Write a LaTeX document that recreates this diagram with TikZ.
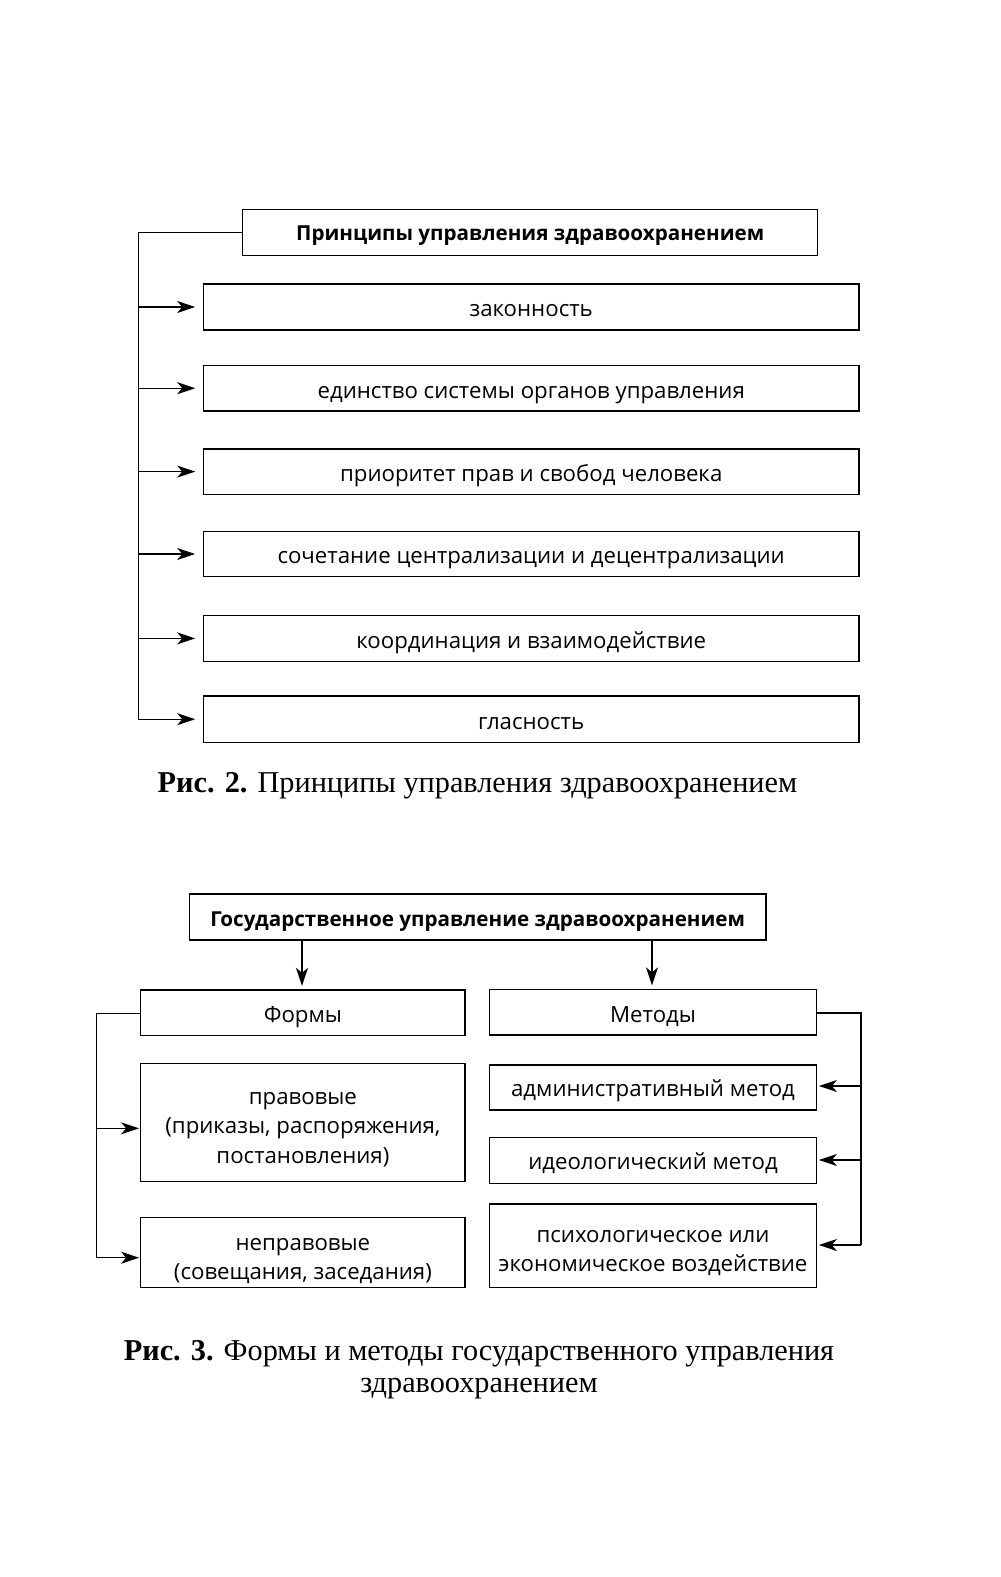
\documentclass[tikz,border=0pt]{standalone}
\usepackage{fontspec}
\setmainfont{Open Sans}
\newfontfamily\capfont{Liberation Serif}
\usetikzlibrary{arrows.meta}
\newcommand\mltext[2][4bp]{\raisebox{-#1}[\height][\depth]{\begin{tabular}{@{}c@{}}#2\end{tabular}}}
\tikzset{
  box/.style={draw, line width=1.3bp, inner sep=0pt,
    font=\fontsize{22.3}{29.5}\selectfont},
  titlebox/.style={draw, line width=1.3bp, inner sep=0pt,
    font=\fontsize{20.7}{29}\selectfont\bfseries},
  conn/.style={line width=1.3bp},
  arr/.style={line width=1.3bp, -{Stealth[length=18bp,width=12bp,inset=5bp]}},
  caption/.style={font=\fontsize{30.4}{31.2}\selectfont\capfont, inner sep=0pt, align=center}
}
\begin{document}
\begin{tikzpicture}[x=1bp,y=-1bp]
\useasboundingbox (0,0) rectangle (1000,1577);
% ---------- Figure 2 ----------
\node[titlebox, minimum width=575bp, minimum height=46.4bp] (t2) at (530.2,232.5) {\mltext[2bp]{Принципы управления здравоохранением}};
\node[box, minimum width=655.7bp, minimum height=45.8bp] (p1) at (531.2,307) {\mltext{законность}};
\node[box, minimum width=655.7bp, minimum height=45.5bp] (p2) at (531.2,388.2) {\mltext{единство системы органов управления}};
\node[box, minimum width=655.7bp, minimum height=45.5bp] (p3) at (531.2,471.6) {\mltext{приоритет прав и свобод человека}};
\node[box, minimum width=655.7bp, minimum height=45.5bp] (p4) at (531.2,554) {\mltext{сочетание централизации и децентрализации}};
\node[box, minimum width=655.7bp, minimum height=45.5bp] (p5) at (531.2,638.4) {\mltext{координация и взаимодействие}};
\node[box, minimum width=655.7bp, minimum height=46.2bp] (p6) at (531.2,719.2) {\mltext{гласность}};
\coordinate (l2a) at (138.3,232.5);
\coordinate (l2b) at (138.3,719.2);
\draw[conn] (t2.west) -- (l2a) -- (l2b);
\foreach \n in {p1,p2,p3,p4,p5,p6}{
  \draw[arr] (l2a |- \n.west) -- ([xshift=-7.5bp]\n.west);
}
\node[caption, anchor=base] (c2) at (477.5,792) {\textbf{Рис. 2.} Принципы управления здравоохранением};
% ---------- Figure 3 ----------
\node[titlebox, minimum width=576.7bp, minimum height=46bp] (t3) at (477.7,917) {\mltext{Государственное управление здравоохранением}};
\node[box, minimum width=324.3bp, minimum height=45.5bp] (f) at (302.9,1012.7) {\mltext{Формы}};
\node[box, minimum width=327.4bp, minimum height=45.5bp] (m) at (653,1012.3) {\mltext{Методы}};
\node[box, minimum width=324.3bp, minimum height=117.5bp] (f1) at (302.9,1122.5) {\mltext[5.5bp]{правовые\\(приказы, распоряжения,\\постановления)}};
\node[box, minimum width=324.3bp, minimum height=70.3bp] (f2) at (302.9,1252.6) {\mltext[6.5bp]{неправовые\\(совещания, заседания)}};
\node[box, minimum width=327.4bp, minimum height=45bp] (m1) at (653,1087.5) {\mltext[3bp]{административный метод}};
\node[box, minimum width=327.4bp, minimum height=46bp] (m2) at (653,1160.3) {\mltext[3bp]{идеологический метод}};
\node[box, minimum width=327.4bp, minimum height=83.8bp] (m3) at (653,1245.9) {\mltext[5bp]{психологическое или\\экономическое воздействие}};
\coordinate (ad1) at (302,940);
\coordinate (ad2) at (652,940);
\draw[arr] (ad1) -- ([yshift=3.5bp]ad1 |- f.north);
\draw[arr] (ad2) -- ([yshift=3.5bp]ad2 |- m.north);
\coordinate (lfa) at (96.7,1013.5);
\coordinate (lfb) at (96.7,1257.7);
\draw[conn] (lfa -| f.west) -- (lfa) -- (lfb);
\draw[arr] (lfa |- 0,1128.3) -- ([xshift=-1bp]f1.west |- 0,1128.3);
\draw[arr] (lfb) -- ([xshift=-1bp]f2.west |- lfb);
\coordinate (rma) at (861,1013);
\coordinate (rmb) at (861,1245);
\draw[conn] (rma -| m.east) -- (rma) -- (rmb);
\draw[arr] (rma |- 0,1086) -- ([xshift=1.5bp]m1.east |- 0,1086);
\draw[arr] (rma |- 0,1160) -- ([xshift=1.5bp]m2.east |- 0,1160);
\draw[arr] (rmb) -- ([xshift=1.5bp]m3.east |- rmb);
\node[caption, anchor=base] (c3) at (479,1392) {\textbf{Рис. 3.} Формы и методы государственного управления\\здравоохранением};
\end{tikzpicture}
\end{document}
